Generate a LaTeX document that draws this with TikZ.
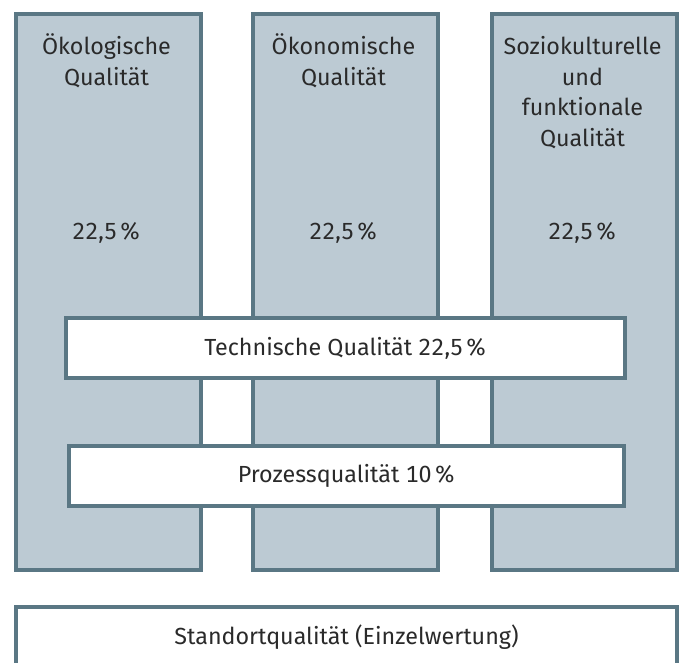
\documentclass[tikz,border=0pt]{standalone}
\usepackage{fontspec}
\setmainfont{Fira Sans}[Numbers=Monospaced]
\usepackage{xcolor}
\usepackage{tikz}
\usetikzlibrary{positioning}

\definecolor{pillarfill}{HTML}{BCCAD3}
\definecolor{pillaredge}{HTML}{5A7784}
\definecolor{ink}{HTML}{2A2A2A}

\newcommand{\pct}{\kern2.5pt\%}

\begin{document}
\begin{tikzpicture}[
  x=1pt, y=-1pt,
  pillar/.style={draw=pillaredge, fill=pillarfill, line width=4pt, inner sep=0pt, minimum width=185pt, minimum height=556pt, anchor=north west},
  band/.style={draw=pillaredge, fill=white, line width=4pt, inner sep=0pt, minimum height=60pt, anchor=north west, text=ink, font=\fontsize{23.3}{30.5}\selectfont},
  caption/.style={align=center, anchor=base, inner sep=0pt, text=ink, font=\fontsize{23.3}{30.5}\selectfont}
]
\useasboundingbox (0,0) rectangle (683,662);
% the three pillars (captions sit on the baseline of their last line)
\node[pillar] (oeko) at (14,12) {};
\node[pillar] (oekon) at (251,12) {};
\node[pillar] (sozio) at (490,12) {};
\node[caption] (oeko-name) at (106.5,85) {Ökologische\\Qualität};
\node[caption] (oekon-name) at (343.5,85) {Ökonomische\\Qualität};
\node[caption] (sozio-name) at (582.5,146) {Soziokulturelle\\und\\funktionale\\Qualität};
\node[caption] (oeko-share) at (106.5,239) {22,5\pct};
\node[caption] (oekon-share) at (343.5,239) {22,5\pct};
\node[caption] (sozio-share) at (582.5,239) {22,5\pct};
% cross-cutting bands
\node[band, minimum width=559pt] (tech) at (64,316) {Technische Qualität 22,5\pct};
\node[band, minimum width=555pt] (prozess) at (67,444) {Prozessqualität 10\pct};
\node[band, minimum width=661pt] (standort) at (14,605) {Standortqualität (Einzelwertung)};
\end{tikzpicture}
\end{document}
